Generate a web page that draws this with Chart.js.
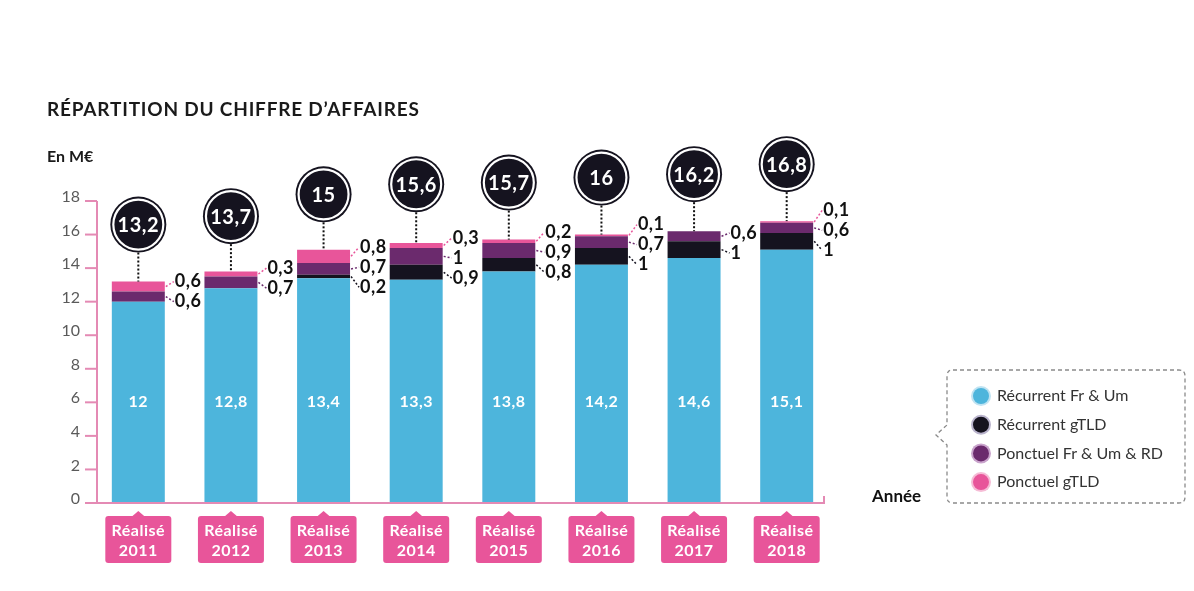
<!DOCTYPE html>
<html>
<head>
<meta charset="utf-8">
<script src="https://cdn.jsdelivr.net/npm/chart.js@4"></script>
<style>
  html, body { margin: 0; padding: 0; background: #fff; }
  #wrap { width: 1194px; height: 591px; position: relative; }
</style>
</head>
<body>
<div id="wrap"><canvas id="ca" width="1194" height="591"></canvas></div>
<script>
const years = ['2011', '2012', '2013', '2014', '2015', '2016', '2017', '2018'];
const recurrentFr = [12, 12.8, 13.4, 13.3, 13.8, 14.2, 14.6, 15.1];
const recurrentGtld = [0, 0, 0.2, 0.9, 0.8, 1, 1, 1];
const ponctuelFr = [0.6, 0.7, 0.7, 1, 0.9, 0.7, 0.6, 0.6];
const ponctuelGtld = [0.6, 0.3, 0.8, 0.3, 0.2, 0.1, 0, 0.1];
const totals = [13.2, 13.7, 15, 15.6, 15.7, 16, 16.2, 16.8];
const yTicks = [0, 2, 4, 6, 8, 10, 12, 14, 16, 18];

const seriesNames = ['Récurrent Fr & Um', 'Récurrent gTLD', 'Ponctuel Fr & Um & RD', 'Ponctuel gTLD'];
const seriesColors = ['#4db5dc', '#15131f', '#6b2a6d', '#e8559a'];
const haloColors = ['#bfe3f2', '#b9b3cc', '#c9a3cc', '#f6bcd6'];
const axisPink = '#e48ab4';
const FONT = 'Lato, "Open Sans", sans-serif';

function fmt(v) { return String(v).replace('.', ','); }

function roundRect(ctx, x, y, w, h, r) {
    ctx.beginPath();
    ctx.moveTo(x + r, y);
    ctx.lineTo(x + w - r, y);
    ctx.quadraticCurveTo(x + w, y, x + w, y + r);
    ctx.lineTo(x + w, y + h - r);
    ctx.quadraticCurveTo(x + w, y + h, x + w - r, y + h);
    ctx.lineTo(x + r, y + h);
    ctx.quadraticCurveTo(x, y + h, x, y + h - r);
    ctx.lineTo(x, y + r);
    ctx.quadraticCurveTo(x, y, x + r, y);
    ctx.closePath();
}

// spread the side labels so they don't overlap, keeping the group centred
function spread(targets, gap) {
    let groups = targets.map(t => ({ items: [t], y: t.y }));
    let moved = true;
    while (moved) {
        moved = false;
        groups.sort((a, b) => a.y - b.y);
        for (let i = 0; i < groups.length - 1; i++) {
            const a = groups[i], b = groups[i + 1];
            const aEnd = a.y + (a.items.length - 1) * gap;
            if (b.y - aEnd < gap) {
                const items = a.items.concat(b.items);
                const mean = items.reduce((s, t) => s + t.y, 0) / items.length;
                groups.splice(i, 2, { items: items, y: mean - (items.length - 1) * gap / 2 });
                moved = true;
                break;
            }
        }
    }
    groups.forEach(g => g.items.forEach((t, k) => { t.ly = g.y + k * gap; }));
}

const decor = {
    id: 'decor',
    afterDraw(chart) {
        const ctx = chart.ctx;
        const ys = chart.scales.y;
        const area = chart.chartArea;
        const axisX = area.left + 5;
        const y0 = ys.getPixelForValue(0);
        ctx.save();

        // title + unit
        ctx.fillStyle = '#1a1a1a';
        ctx.textBaseline = 'middle';
        ctx.textAlign = 'left';
        ctx.font = 'bold 19px ' + FONT;
        ctx.letterSpacing = '0.8px';
        ctx.fillText('RÉPARTITION DU CHIFFRE D\u2019AFFAIRES', 47, 110);
        ctx.letterSpacing = '0px';
        ctx.font = 'bold 16px ' + FONT;
        ctx.fillText('En M€', 47, 157);

        // y axis
        ctx.strokeStyle = axisPink;
        ctx.lineWidth = 2;
        ctx.beginPath();
        ctx.moveTo(axisX, ys.getPixelForValue(18));
        ctx.lineTo(axisX, y0);
        ctx.lineTo(824, y0);
        ctx.lineTo(824, y0 - 7);
        ctx.stroke();
        ctx.font = '16px ' + FONT;
        ctx.fillStyle = '#5a5a5a';
        ctx.textAlign = 'right';
        yTicks.forEach(v => {
            const py = ys.getPixelForValue(v);
            ctx.beginPath();
            ctx.moveTo(85, py);
            ctx.lineTo(axisX, py);
            ctx.stroke();
            ctx.fillText(String(v), 80, py - 4);
        });

        const base = chart.getDatasetMeta(0).data;
        years.forEach((yr, i) => {
            const bar = base[i];
            const cx = bar.x;
            const halfW = bar.width / 2;
            const right = cx + halfW;

            // value inside the cyan part
            ctx.fillStyle = '#fff';
            ctx.textAlign = 'center';
            ctx.font = 'bold 16px ' + FONT;
            ctx.letterSpacing = '0.5px';
            ctx.fillText(fmt(recurrentFr[i]), cx, ys.getPixelForValue(6));

            // side labels for the upper segments
            const targets = [];
            [recurrentGtld, ponctuelFr, ponctuelGtld].forEach((arr, k) => {
                if (!arr[i]) return;
                const el = chart.getDatasetMeta(k + 1).data[i];
                targets.push({ y: (el.y + el.base) / 2, v: arr[i], c: seriesColors[k + 1] });
            });
            targets.sort((a, b) => a.y - b.y);
            spread(targets, 20);
            ctx.font = 'bold 18px ' + FONT;
            ctx.textAlign = 'left';
            targets.forEach(t => {
                ctx.strokeStyle = t.c;
                ctx.lineWidth = 1.5;
                ctx.setLineDash([2, 2]);
                ctx.beginPath();
                ctx.moveTo(right + 1, t.y);
                ctx.lineTo(right + 9, t.ly);
                ctx.stroke();
                ctx.setLineDash([]);
                ctx.fillStyle = '#111';
                ctx.fillText(fmt(t.v), right + 10, t.ly);
            });

            // total bubble
            const top = chart.getDatasetMeta(3).data[i].y;
            const cy = ys.getPixelForValue(totals[i]) - 57;
            ctx.strokeStyle = '#111';
            ctx.lineWidth = 2;
            ctx.setLineDash([2, 2]);
            ctx.beginPath();
            ctx.moveTo(cx, cy + 28);
            ctx.lineTo(cx, top);
            ctx.stroke();
            ctx.setLineDash([]);
            ctx.beginPath();
            ctx.arc(cx, cy, 28, 0, Math.PI * 2);
            ctx.fillStyle = '#15131f';
            ctx.fill();
            ctx.beginPath();
            ctx.arc(cx, cy, 25, 0, Math.PI * 2);
            ctx.strokeStyle = '#fff';
            ctx.lineWidth = 2.2;
            ctx.stroke();
            ctx.fillStyle = '#fff';
            ctx.textAlign = 'center';
            ctx.font = 'bold 20px ' + FONT;
            ctx.fillText(fmt(totals[i]), cx, cy + 1);

            // category tag
            const tagTop = 516, tagW = 66, tagH = 47;
            ctx.fillStyle = '#e8559a';
            roundRect(ctx, cx - tagW / 2, tagTop, tagW, tagH, 3);
            ctx.fill();
            ctx.beginPath();
            ctx.moveTo(cx - 7, tagTop + 1);
            ctx.lineTo(cx, tagTop - 5);
            ctx.lineTo(cx + 7, tagTop + 1);
            ctx.closePath();
            ctx.fill();
            ctx.fillStyle = '#fff';
            ctx.font = 'bold 16px ' + FONT;
            ctx.fillText('Réalisé', cx, tagTop + 15);
            ctx.fillText(yr, cx, tagTop + 35);
            ctx.letterSpacing = '0px';
        });

        // axis name
        ctx.fillStyle = '#111';
        ctx.textAlign = 'left';
        ctx.font = 'bold 17px ' + FONT;
        ctx.fillText('Année', 872, 497);

        // legend box
        ctx.strokeStyle = '#8a8a8a';
        ctx.lineWidth = 1.3;
        ctx.setLineDash([4, 3]);
        const lx = 947, ly = 370, lw = 238, lh = 133, r = 6;
        ctx.beginPath();
        ctx.moveTo(lx + r, ly);
        ctx.lineTo(lx + lw - r, ly);
        ctx.quadraticCurveTo(lx + lw, ly, lx + lw, ly + r);
        ctx.lineTo(lx + lw, ly + lh - r);
        ctx.quadraticCurveTo(lx + lw, ly + lh, lx + lw - r, ly + lh);
        ctx.lineTo(lx + r, ly + lh);
        ctx.quadraticCurveTo(lx, ly + lh, lx, ly + lh - r);
        ctx.lineTo(lx, 445);
        ctx.lineTo(936, 435);
        ctx.lineTo(lx, 425);
        ctx.lineTo(lx, ly + r);
        ctx.quadraticCurveTo(lx, ly, lx + r, ly);
        ctx.stroke();
        ctx.setLineDash([]);
        ctx.font = '16px ' + FONT;
        seriesNames.forEach((name, k) => {
            const yy = 396 + k * 28.7;
            ctx.beginPath();
            ctx.arc(981, yy, 10, 0, Math.PI * 2);
            ctx.fillStyle = haloColors[k];
            ctx.fill();
            ctx.beginPath();
            ctx.arc(981, yy, 8, 0, Math.PI * 2);
            ctx.fillStyle = seriesColors[k];
            ctx.fill();
            ctx.fillStyle = '#333';
            ctx.fillText(name, 997, yy);
        });
        ctx.restore();
    }
};

const sets = [recurrentFr, recurrentGtld, ponctuelFr, ponctuelGtld].map((d, k) => ({
    label: seriesNames[k],
    data: d,
    backgroundColor: seriesColors[k],
    borderWidth: 0,
    categoryPercentage: 1,
    barPercentage: 0.572
}));

new Chart(document.getElementById('ca'), {
    type: 'bar',
    data: { labels: years, datasets: sets },
    options: {
        responsive: false,
        animation: false,
        layout: { padding: { left: 92, right: 361, top: 201, bottom: 88 } },
        plugins: { legend: { display: false }, tooltip: { enabled: false } },
        scales: {
            x: { stacked: true, display: false },
            y: { stacked: true, display: false, min: 0, max: 18 }
        }
    },
    plugins: [decor]
});
</script>
</body>
</html>
